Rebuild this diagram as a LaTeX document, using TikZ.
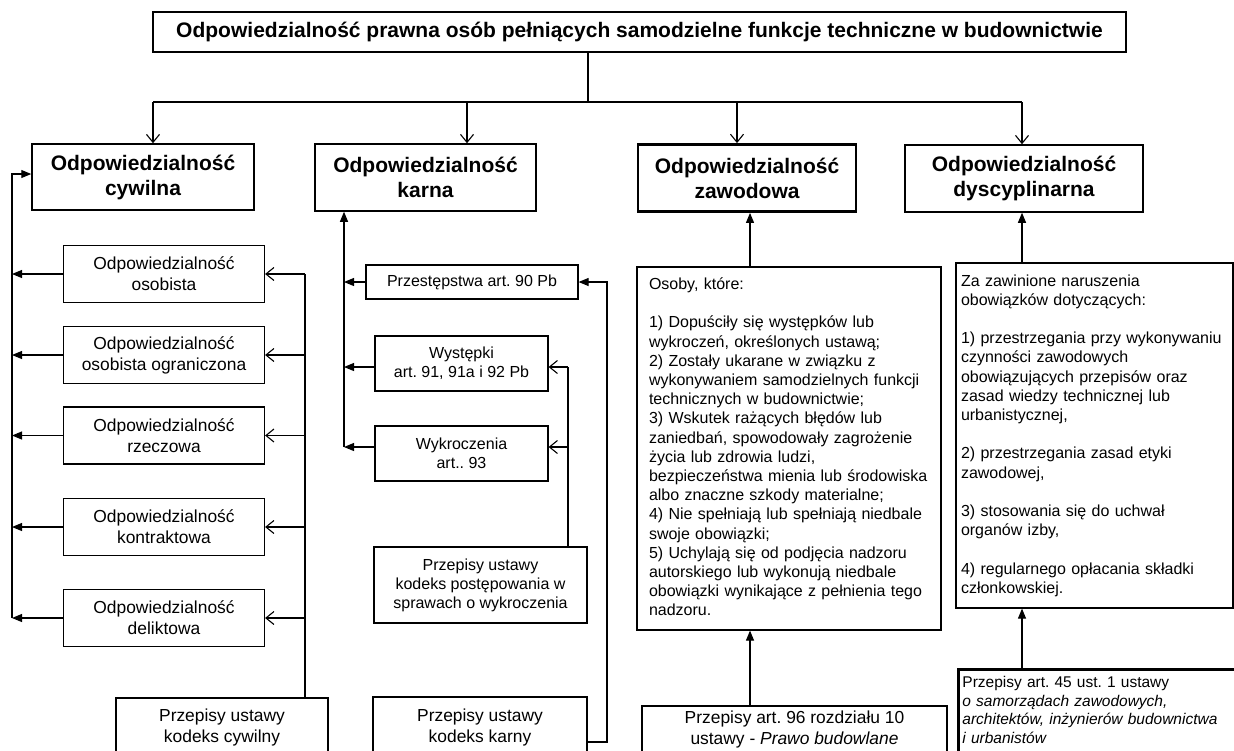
\documentclass[tikz,border=0pt]{standalone}
\usepackage{fontspec}
\setmainfont{Liberation Sans}
\usepackage{tikz}
\usetikzlibrary{arrows.meta}

\newcommand{\rozmiar}[2]{\fontsize{#1}{#2}\selectfont}
\frenchspacing

\begin{document}
\begin{tikzpicture}[x=1pt,y=-1pt,
  ramka/.style={draw, line width=1.2pt, align=center, inner sep=0pt},
  naglowek/.style={ramka, line width=1.5pt, font=\bfseries\rozmiar{21}{25}},
  rodzaj/.style={ramka, minimum width=201pt, minimum height=57pt, font=\rozmiar{17.4}{21}},
  przepis/.style={ramka, font=\rozmiar{16}{19}},
  ustawa/.style={ramka, font=\rozmiar{17.4}{21}},
  gruba/.style={line width=2.8pt},
  opis/.style={ramka, align=left, font=\rozmiar{16}{19.2}},
  linia/.style={line width=1.1pt},
  otwarta/.style={linia, -{Straight Barb[length=8pt,width=13pt]}},
  pelna/.style={linia, -{Triangle[length=10pt,width=8pt]}}]
\useasboundingbox (0,0) rectangle (1234,750);
\clip (0,0) rectangle (1234,750);
\fill[white] (0,0) rectangle (1234,750);

% Tytuł i cztery rodzaje odpowiedzialności
\node[naglowek, minimum width=973pt, minimum height=40pt] (tytul) at (639.5,32)
  {Odpowiedzialność prawna osób pełniących samodzielne funkcje techniczne w budownictwie};
\node[naglowek, minimum width=222pt, minimum height=66pt] (cywilna) at (143,177) {Odpowiedzialność\\cywilna};
\node[naglowek, minimum width=221pt, minimum height=67pt] (karna) at (425.5,177.5) {Odpowiedzialność\\karna};
\node[naglowek, gruba, minimum width=218pt, minimum height=67pt] (zawodowa) at (747,178) {Odpowiedzialność\\zawodowa};
\node[naglowek, minimum width=238pt, minimum height=67pt] (dyscyplinarna) at (1024,178.5) {Odpowiedzialność\\dyscyplinarna};

\coordinate (rozgal) at (588,102);
\coordinate (g1) at (153,102);
\coordinate (g2) at (467,102);
\coordinate (g3) at (737,102);
\coordinate (g4) at (1022,102);
\draw[linia] (tytul.south -| rozgal) -- (rozgal);
\draw[linia] (g1) -- (g4);
\foreach \g/\c in {g1/cywilna, g2/karna, g3/zawodowa, g4/dyscyplinarna}
  \draw[otwarta] (\g) -- (\g |- \c.north);

% Odpowiedzialność cywilna
\foreach \n/\y/\t in {osobista/274/{Odpowiedzialność\\osobista},
    ograniczona/355/{Odpowiedzialność\\osobista ograniczona},
    rzeczowa/435.5/{Odpowiedzialność\\rzeczowa},
    kontraktowa/527/{Odpowiedzialność\\kontraktowa},
    deliktowa/618/{Odpowiedzialność\\deliktowa}}
  \node[rodzaj] (\n) at (164,\y) {\t};
\node[ustawa, minimum width=212pt, minimum height=58pt] (kcywilny) at (222,727) {Przepisy ustawy\\kodeks cywilny};

\coordinate (lewa) at (12,0);
\coordinate (prawa) at (305,0);
\draw[pelna] (deliktowa.west -| lewa) |- ([yshift=3pt]cywilna.west);
\draw[linia] (kcywilny.north -| prawa) -- (osobista.east -| prawa);
\foreach \n in {osobista, ograniczona, rzeczowa, kontraktowa, deliktowa} {
  \draw[pelna] (\n.west) -- (\n.west -| lewa);
  \draw[otwarta] (\n.east -| prawa) -- (\n.east);
}

% Odpowiedzialność karna
\node[przepis, minimum width=212pt, minimum height=34pt] (przestepstwa) at (472,282) {Przestępstwa art. 90 Pb};
\node[przepis, minimum width=173pt, minimum height=55pt] (wystepki) at (461.5,363.5) {Występki\\art. 91, 91a i 92 Pb};
\node[przepis, minimum width=173pt, minimum height=55pt] (wykroczenia) at (461.5,453.5) {Wykroczenia\\art.. 93};
\node[przepis, gruba, minimum width=213pt, minimum height=76pt] (kpow) at (480.5,585)
  {Przepisy ustawy\\kodeks postępowania w\\sprawach o wykroczenia};
\node[ustawa, gruba, minimum width=214pt, minimum height=60pt] (kkarny) at (480,727) {Przepisy ustawy\\kodeks karny};

\coordinate (lk) at (344,0);
\coordinate (pk) at (568,0);
\coordinate (zk) at (607,742);
\draw[pelna] ([yshift=6.5pt]wykroczenia.west -| lk) -- (karna.south -| lk);
\foreach \n/\d in {przestepstwa/0, wystepki/-3.5, wykroczenia/6.5}
  \draw[pelna] ([yshift=\d pt]\n.west) -- ([yshift=\d pt]\n.west -| lk);
\draw[linia] (kpow.north -| pk) -- ([yshift=-3.5pt]wystepki.east -| pk);
\foreach \n/\d in {wystepki/-3.5, wykroczenia/6.5}
  \draw[otwarta] ([yshift=\d pt]\n.east -| pk) -- ([yshift=\d pt]\n.east);
\draw[pelna] (kkarny.east |- zk) -| (przestepstwa.east -| zk) -- (przestepstwa.east);

% Odpowiedzialność zawodowa
\node[opis, text width=280pt, minimum width=304pt, minimum height=363pt] (tzawod) at (789,448.5)
  {Osoby, które:\\[19.2pt]
   1) Dopuściły się występków lub\\
   wykroczeń, określonych ustawą;\\
   2) Zostały ukarane w związku z\\
   wykonywaniem samodzielnych funkcji\\
   technicznych w budownictwie;\\
   3) Wskutek rażących błędów lub\\
   zaniedbań, spowodowały zagrożenie\\
   życia lub zdrowia ludzi,\\
   bezpieczeństwa mienia lub środowiska\\
   albo znaczne szkody materialne;\\
   4) Nie spełniają lub spełniają niedbale\\
   swoje obowiązki;\\
   5) Uchylają się od podjęcia nadzoru\\
   autorskiego lub wykonują niedbale\\
   obowiązki wynikające z pełnienia tego\\
   nadzoru.\\[-16pt] \mbox{}};
\node[ustawa, gruba, minimum width=305pt, minimum height=46pt] (prawo) at (794.5,729)
  {Przepisy art. 96 rozdziału 10\\ustawy - \textit{Prawo budowlane}};

\coordinate (sz) at (750,0);
\draw[pelna] (tzawod.north -| sz) -- (zawodowa.south -| sz);
\draw[pelna] (prawo.north -| sz) -- (tzawod.south -| sz);

% Odpowiedzialność dyscyplinarna
\node[opis, text width=267pt, minimum width=277pt, minimum height=345pt] (tdysc) at (1094.5,435.5)
  {Za zawinione naruszenia\\
   obowiązków dotyczących:\\[19.2pt]
   1) przestrzegania przy wykonywaniu\\
   czynności zawodowych\\
   obowiązujących przepisów oraz\\
   zasad wiedzy technicznej lub\\
   urbanistycznej,\\[19.2pt]
   2) przestrzegania zasad etyki\\
   zawodowej,\\[19.2pt]
   3) stosowania się do uchwał\\
   organów izby,\\[19.2pt]
   4) regularnego opłacania składki\\
   członkowskiej.};
\node[ramka, gruba, anchor=north west, align=left, text width=290pt, inner xsep=4pt, inner ysep=7pt,
  font=\rozmiar{15.5}{18.5}] (art45) at (957,668)
  {Przepisy art. 45 ust. 1 ustawy\\
   \textit{o samorządach zawodowych,}\\
   \textit{architektów, inżynierów budownictwa}\\
   \textit{i urbanistów}\\ \mbox{}};

\coordinate (sd) at (1022,0);
\draw[pelna] (tdysc.north -| sd) -- (dyscyplinarna.south -| sd);
\draw[pelna] (art45.north -| sd) -- (tdysc.south -| sd);
\end{tikzpicture}
\end{document}
